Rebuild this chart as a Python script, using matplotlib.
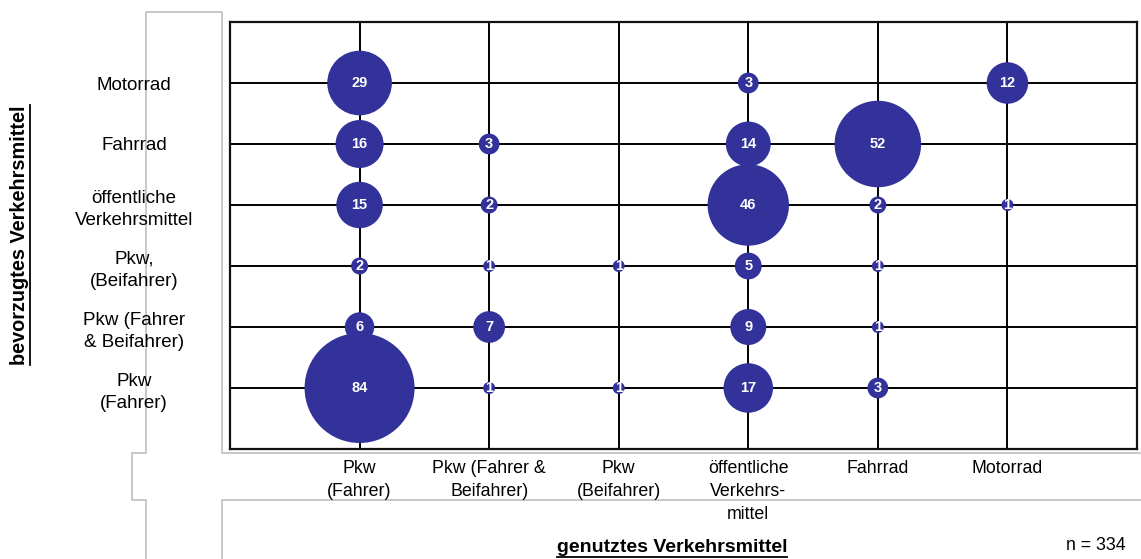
import numpy as np
import matplotlib
matplotlib.use("Agg")
import matplotlib.pyplot as plt
from matplotlib.lines import Line2D

plt.rcParams['font.family'] = ['Liberation Sans', 'DejaVu Sans']

W, H = 1141, 559

# ── DATA ──────────────────────────────────────────────────────
used_labels = ['Pkw\n(Fahrer)', 'Pkw (Fahrer &\nBeifahrer)', 'Pkw\n(Beifahrer)',
               'öffentliche\nVerkehrs-\nmittel', 'Fahrrad', 'Motorrad']
pref_labels = ['Pkw\n(Fahrer)', 'Pkw (Fahrer\n& Beifahrer)', 'Pkw,\n(Beifahrer)',
               'öffentliche\nVerkehrsmittel', 'Fahrrad', 'Motorrad']

# (used index, preferred index, count), 1-based positions
used_idx = [1, 4, 6,
            1, 2, 4, 5,
            1, 2, 4, 5, 6,
            1, 2, 3, 4, 5,
            1, 2, 4, 5,
            1, 2, 3, 4, 5]
pref_idx = [6, 6, 6,
            5, 5, 5, 5,
            4, 4, 4, 4, 4,
            3, 3, 3, 3, 3,
            2, 2, 2, 2,
            1, 1, 1, 1, 1]
counts = [29, 3, 12,
          16, 3, 14, 52,
          15, 2, 46, 2, 1,
          2, 1, 1, 5, 1,
          6, 7, 9, 1,
          84, 1, 1, 17, 3]
n_total = 334

BUBBLE = '#32329a'
GRAY = '#c8c8c8'

fig = plt.figure(figsize=(W / 100, H / 100), dpi=100)
ax = fig.add_axes([230 / W, 1 - 449 / H, (1137 - 230) / W, (449 - 22) / H])

# bubble radius in px = 6*sqrt(n) -> marker area in pt^2
sizes = [(2 * 6 * np.sqrt(c) * 0.72) ** 2 for c in counts]
ax.scatter(used_idx, pref_idx, s=sizes, color=BUBBLE, edgecolors='none',
           zorder=3)
for x, y, c in zip(used_idx, pref_idx, counts):
    ax.text(x, y, str(c), color='white', fontsize=10.5, fontweight='bold',
            ha='center', va='center', zorder=4)

ax.set_xlim(0, 7)
ax.set_ylim(0, 7)
ax.set_xticks(range(1, 7))
ax.set_yticks(range(1, 7))
ax.set_xticklabels(used_labels, fontsize=12.8, linespacing=1.45)
ax.set_yticklabels(pref_labels, fontsize=13.5, ha='center',
                   multialignment='center', linespacing=1.4)
ax.tick_params(axis='both', length=0)
ax.tick_params(axis='x', pad=8)
ax.tick_params(axis='y', pad=69)
ax.grid(True, color='black', lw=1.4, zorder=1)
for sp in ax.spines.values():
    sp.set_linewidth(1.6)
    sp.set_color('#111111')

# ── GRAY FRAME LINES (table layout) ───────────────────────────
def px(pts):
    xs = [p[0] / W for p in pts]
    ys = [1 - p[1] / H for p in pts]
    return xs, ys

path1 = [(146, 559), (146, 500), (132, 500), (132, 453), (146, 453),
         (146, 12), (222, 12), (222, 453), (1141, 453)]
path2 = [(222, 559), (222, 500), (1141, 500)]
for p in (path1, path2):
    xs, ys = px(p)
    fig.add_artist(Line2D(xs, ys, color=GRAY, lw=1.4, zorder=0))

# ── AXIS TITLES ───────────────────────────────────────────────
ylab = fig.text(20 / W, 1 - 235 / H, 'bevorzugtes Verkehrsmittel',
                rotation=90, fontsize=14.3, fontweight='bold',
                ha='center', va='center')
xlab = fig.text(672 / W, 1 - 547 / H, 'genutztes Verkehrsmittel',
                fontsize=14, fontweight='bold', ha='center', va='center')
fig.text(1126 / W, 1 - 546 / H, f'n = {n_total}', fontsize=12.8,
         ha='right', va='center')

# underline the axis titles
fig.canvas.draw()
r = fig.canvas.get_renderer()
bb = ylab.get_window_extent(r)
fig.add_artist(Line2D([(bb.x1 + 0.5) / W] * 2, [bb.y0 / H, bb.y1 / H],
                      color='black', lw=1.3))
bb = xlab.get_window_extent(r)
fig.add_artist(Line2D([bb.x0 / W, bb.x1 / W], [(bb.y0 - 1) / H] * 2,
                      color='black', lw=1.3))

fig.savefig('out.png', dpi=100)
